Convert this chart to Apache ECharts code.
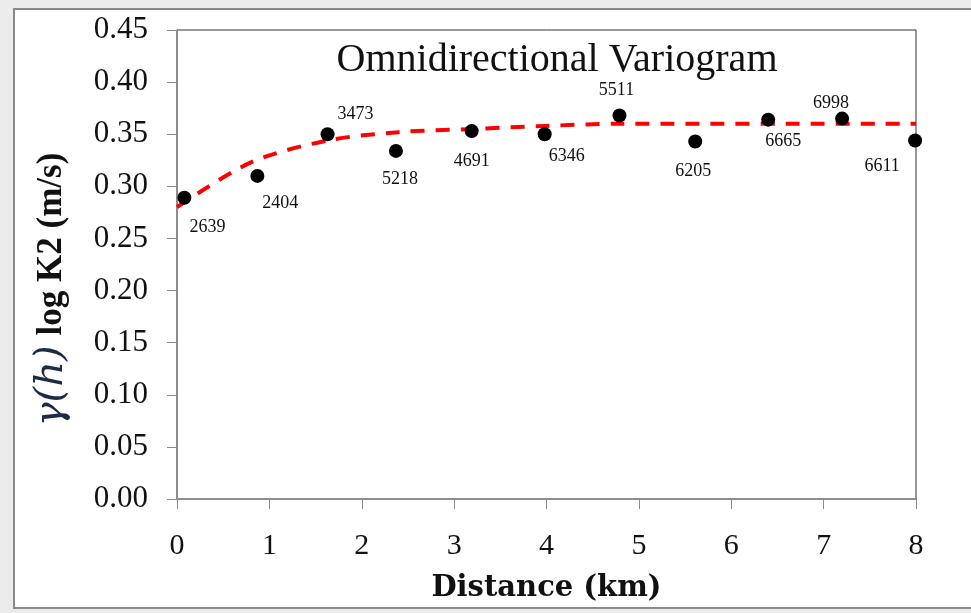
<!DOCTYPE html>
<html>
<head>
<meta charset="utf-8">
<script src="https://cdn.jsdelivr.net/npm/echarts@6/dist/echarts.min.js"></script>
<style>
  html, body { margin: 0; padding: 0; background: #ebebeb; }
  .frame {
    position: absolute; left: 13px; top: 8px; width: 970px; height: 597px;
    background: #fff; border-left: 2px solid #8a8a8a; border-top: 2px solid #8a8a8a; border-bottom: 2px solid #8a8a8a;
  }
  #chart { position: absolute; left: 0; top: 0; width: 971px; height: 613px; }
</style>
</head>
<body>
<div class="frame"></div>
<div id="chart"></div>
<script>
  // experimental variogram (lag distance km, gamma, number of pairs)
  var lagDist = [0.08, 0.87, 1.63, 2.37, 3.19, 3.98, 4.79, 5.61, 6.40, 7.20, 7.99];
  var gamma = [0.289, 0.310, 0.350, 0.334, 0.353, 0.350, 0.368, 0.343, 0.364, 0.365, 0.344];
  var pairs = ['2639', '2404', '3473', '5218', '4691', '6346', '5511', '6205', '6665', '6998', '6611'];

  // fitted model curve
  var modelDist = [0, 0.8, 1.63, 2.4, 3.2, 4.0, 4.8, 8];
  var modelGamma = [0.280, 0.323, 0.344, 0.352, 0.355, 0.358, 0.360, 0.360];

  var xTicks = [0, 1, 2, 3, 4, 5, 6, 7, 8];

  // where each pair count sits relative to its dot
  var labelOffsets = [[23, 29], [23, 27], [28, -20], [4, 28], [0, 30], [22, 22], [-3, -25], [-2, 30], [15, 22], [-11, -15], [-33, 26]];

  var serif = '"Liberation Serif", "DejaVu Serif", serif';

  var points = lagDist.map(function (d, i) {
    return {
      value: [d, gamma[i]],
      label: { show: true, position: 'inside', offset: labelOffsets[i], formatter: pairs[i] }
    };
  });
  var model = modelDist.map(function (d, i) { return [d, modelGamma[i]]; });

  var chart = echarts.init(document.getElementById('chart'));
  chart.setOption({
    animation: false,
    backgroundColor: 'transparent',
    title: {
      text: 'Omnidirectional Variogram',
      left: 552, top: 35, textAlign: 'center',
      textStyle: { fontFamily: serif, fontWeight: 'normal', fontSize: 40, color: '#111' }
    },
    grid: {
      left: 177, right: 55, top: 30, bottom: 114,
      show: true, borderColor: '#333', borderWidth: 1
    },
    xAxis: {
      type: 'value', min: 0, max: 8, interval: 1,
      name: 'Distance (km)', nameLocation: 'middle', nameGap: 75, nameMoveOverlap: false,
      nameTextStyle: { fontFamily: '"DejaVu Serif", serif', fontWeight: 'bold', fontSize: 29, color: '#111' },
      axisLine: { lineStyle: { color: '#8a8a8a', width: 1.5 } },
      axisTick: { show: true, inside: false, length: 10, lineStyle: { color: '#8a8a8a' } },
      axisLabel: { margin: 32, fontFamily: serif, fontSize: 30, color: '#111',
        formatter: function (v) { return xTicks.indexOf(v) >= 0 ? String(v) : ''; } },
      splitLine: { show: false }
    },
    yAxis: {
      type: 'value', min: 0, max: 0.45, interval: 0.05,
      name: '{g|γ(h)}{b|log K2 (m/s)}', nameLocation: 'middle', nameGap: 105, nameRotate: 90,
      nameMoveOverlap: false,
      nameTextStyle: {
        padding: [0, 50, 0, 0],
        rich: {
          g: { fontFamily: '"DejaVu Serif", serif', fontStyle: 'italic', fontSize: 40, color: '#1c2b45', padding: [0, 10, 0, 0] },
          b: { fontFamily: serif, fontWeight: 'bold', fontSize: 35, color: '#111' }
        }
      },
      axisLine: { show: true, lineStyle: { color: '#8a8a8a', width: 1.5 } },
      axisTick: { show: true, inside: false, length: 10, lineStyle: { color: '#8a8a8a' } },
      axisLabel: { margin: 29, fontFamily: serif, fontSize: 31, color: '#111',
        formatter: function (v) { return v.toFixed(2); } },
      splitLine: { show: false }
    },
    series: [
      {
        type: 'line', data: model, smooth: 0.3, symbol: 'none', z: 2,
        lineStyle: { color: '#ff0000', width: 4, type: [14, 11] }
      },
      {
        type: 'scatter', data: points, symbol: 'circle', symbolSize: 14, z: 3,
        itemStyle: { color: '#000', opacity: 1 },
        label: { fontFamily: serif, fontSize: 18, color: '#111' }
      }
    ]
  });
</script>
</body>
</html>
